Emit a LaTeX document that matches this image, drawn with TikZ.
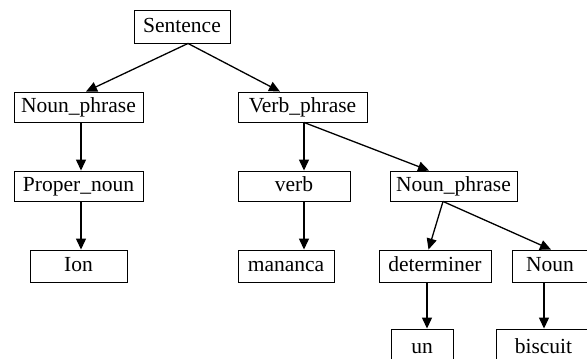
\documentclass[tikz,border=0pt]{standalone}
\usepackage{fontspec}
\setmainfont{Liberation Serif}
\usetikzlibrary{arrows.meta}
\begin{document}
\begin{tikzpicture}[x=1pt,y=-1pt,
  box/.style={draw,line width=0.9pt,inner sep=0pt,font=\fontsize{21.5}{25}\selectfont,
    text height=14.5pt,text depth=3.5pt},
  link/.style={line width=1.3pt,-{Triangle[length=11pt,width=10pt]}}]
\useasboundingbox (0,0) rectangle (587,359);
\clip (0,0) rectangle (587,359);
\fill[white] (0,0) rectangle (587,359);
\node[box,minimum width=96pt,minimum height=33pt] (S) at (182,26.5) {Sentence};
\node[box,minimum width=129pt,minimum height=30pt] (NP1) at (78.5,107) {Noun\_phrase};
\node[box,minimum width=129pt,minimum height=30pt] (VP) at (302.5,107) {Verb\_phrase};
\node[box,minimum width=129pt,minimum height=30pt] (PN) at (78.5,186) {Proper\_noun};
\node[box,minimum width=97pt,minimum height=32pt] (Ion) at (78.5,266) {Ion};
\node[box,minimum width=112pt,minimum height=30pt] (V) at (294,186) {verb};
\node[box,minimum width=96pt,minimum height=32pt] (M) at (286,266) {mananca};
\node[box,minimum width=127pt,minimum height=30pt] (NP2) at (453.5,186) {Noun\_phrase};
\node[box,minimum width=112pt,minimum height=32pt] (D) at (435,266) {determiner};
\node[box,minimum width=76pt,minimum height=32pt] (N) at (550,266) {Noun};
\node[box,minimum width=62pt,minimum height=37pt] (U) at (422,347.5) {un};
\node[box,minimum width=95pt,minimum height=37pt] (B) at (543.5,347.5) {biscuit};
\draw[link] ([xshift=6pt]S.south) -- ([xshift=7.5pt]NP1.north);
\draw[link] ([xshift=6pt]S.south) -- ([xshift=-22.5pt]VP.north);
\draw[link] ([xshift=2.5pt]NP1.south) -- ([xshift=2.5pt]PN.north);
\draw[link] ([xshift=2.5pt]PN.south) -- ([xshift=2.5pt]Ion.north);
\draw[link] ([xshift=1.5pt]VP.south) -- ([xshift=10pt]V.north);
\draw[link] ([xshift=1.5pt]VP.south) -- ([xshift=-24.5pt]NP2.north);
\draw[link] ([xshift=10pt]V.south) -- ([xshift=18pt]M.north);
\draw[link] ([xshift=-10.5pt]NP2.south) -- ([xshift=-6.5pt]D.north);
\draw[link] ([xshift=-10.5pt]NP2.south) -- ([xshift=1pt]N.north);
\draw[link] ([xshift=-8pt]D.south) -- ([xshift=5pt]U.north);
\draw[link] ([xshift=-6pt]N.south) -- ([xshift=0.5pt]B.north);
\end{tikzpicture}
\end{document}
